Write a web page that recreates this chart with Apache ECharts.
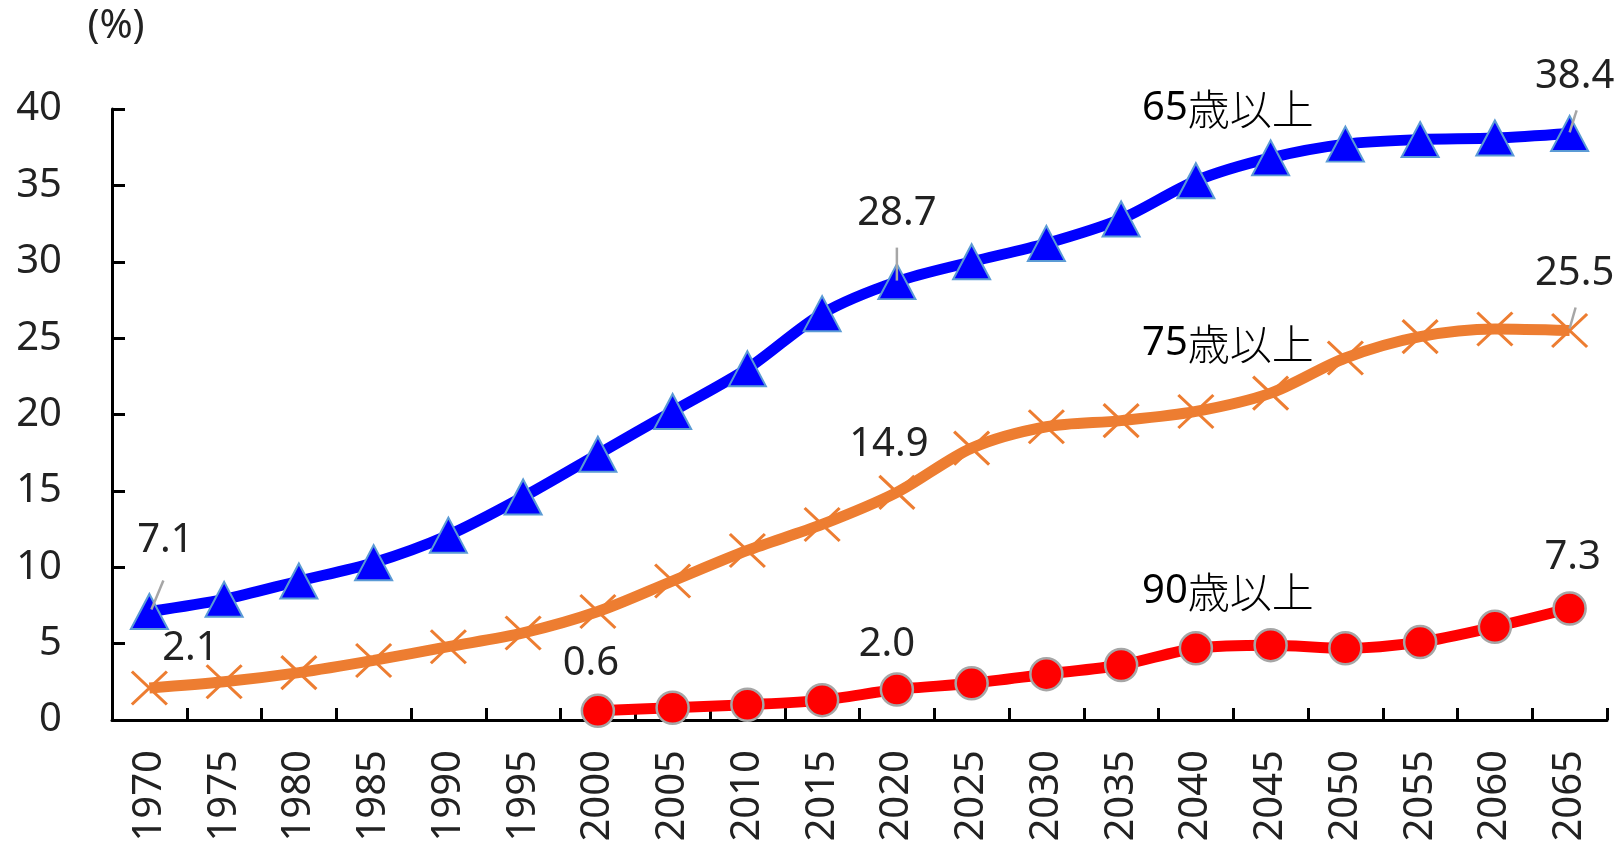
<!DOCTYPE html>
<html lang="ja">
<head>
<meta charset="utf-8">
<title>高齢化率の推移</title>
<script src="https://cdn.jsdelivr.net/npm/echarts@6/dist/echarts.min.js"></script>
<style>
  html, body { margin: 0; padding: 0; background: #fff; }
  #chart { width: 1619px; height: 845px; }
</style>
</head>
<body>
<div id="chart"></div>
<script>
// Share of the population by age group (%)
const years = ['1970', '1975', '1980', '1985', '1990', '1995', '2000', '2005', '2010', '2015',
               '2020', '2025', '2030', '2035', '2040', '2045', '2050', '2055', '2060', '2065'];
const age65 = [7.1, 7.9, 9.1, 10.3, 12.1, 14.6, 17.4, 20.2, 23.0, 26.6,
               28.7, 30.0, 31.2, 32.8, 35.3, 36.8, 37.7, 38.0, 38.1, 38.4];
const age75 = [2.1, 2.5, 3.1, 3.9, 4.8, 5.7, 7.1, 9.1, 11.1, 12.8,
               14.9, 17.8, 19.2, 19.6, 20.2, 21.4, 23.7, 25.1, 25.6, 25.5];
const age90 = [null, null, null, null, null, null, 0.6, 0.8, 1.0, 1.3,
               2.0, 2.4, 3.0, 3.6, 4.7, 4.9, 4.7, 5.1, 6.1, 7.3];
const ageFrom = ['65', '75', '90'];
const ageSuffix = '歳以上';
const yTicks = { min: 0, max: 40, interval: 5 };

// Which points carry a value label, and where the label sits relative to the point (px)
const labelOffsets = [
  { 0: [16, -71], 10: [0, -68], 19: [5, -57] },
  { 0: [41, -39], 10: [-8, -48], 19: [5, -57] },
  { 6: [-7, -47], 10: [-10, -45], 19: [3, -51] }
];
// Short guide lines from a point toward its label (px, relative to the point)
const leaders = [
  { s: 0, i: 0, from: [2, -2], to: [14, -31] },
  { s: 0, i: 10, from: [0, -1], to: [0, -34] },
  { s: 0, i: 19, from: [0, -1], to: [7, -23] },
  { s: 1, i: 19, from: [0, -2], to: [6, -23] }
];

const FONT = '"Noto Sans", "Noto Sans CJK JP", sans-serif';
const CJK = '"Noto Sans CJK JP", sans-serif';
const TEXT = '#222';

function buildData(values, offsets) {
  return values.map(function (v, i) {
    if (v === null) return null;
    const off = offsets[i];
    if (!off) return v;
    return {
      value: v,
      label: {
        show: true,
        position: 'inside',
        offset: off,
        formatter: function (p) { return Number(p.value).toFixed(1); },
        fontFamily: FONT,
        fontSize: 40,
        color: TEXT
      }
    };
  });
}

const chart = echarts.init(document.getElementById('chart'), null, { renderer: 'canvas' });

const option = {
  animation: false,
  backgroundColor: '#fff',
  grid: { left: 112, right: 12, top: 109, bottom: 125, containLabel: false },
  xAxis: {
    type: 'category',
    data: years,
    boundaryGap: true,
    axisLine: { show: true, lineStyle: { color: '#000', width: 3 } },
    axisTick: { show: true, inside: true, length: 12, interval: 0, lineStyle: { color: '#000', width: 3 } },
    axisLabel: { interval: 0, rotate: 90, margin: 30, fontFamily: FONT, fontSize: 40, color: TEXT },
    splitLine: { show: false }
  },
  yAxis: {
    type: 'value',
    min: yTicks.min,
    max: yTicks.max,
    interval: yTicks.interval,
    name: '(%)',
    nameLocation: 'end',
    nameGap: 62,
    nameTextStyle: { fontFamily: FONT, fontSize: 40, color: TEXT, align: 'center', verticalAlign: 'bottom', padding: [0, 0, 0, 8] },
    axisLine: { show: true, lineStyle: { color: '#000', width: 3 } },
    axisTick: { show: true, inside: true, length: 13, lineStyle: { color: '#000', width: 3 } },
    axisLabel: { margin: 50, fontFamily: FONT, fontSize: 40, color: TEXT },
    splitLine: { show: false }
  },
  series: [
    {
      name: ageFrom[0] + ageSuffix,
      type: 'line',
      data: buildData(age65, labelOffsets[0]),
      smooth: 0.3,
      symbol: 'triangle',
      symbolSize: [37, 35],
      lineStyle: { color: '#0000FF', width: 11 },
      itemStyle: { color: '#0000FF', borderColor: '#5B9BD5', borderWidth: 2 },
      label: { show: false },
      z: 2
    },
    {
      name: ageFrom[1] + ageSuffix,
      type: 'line',
      data: buildData(age75, labelOffsets[1]),
      smooth: 0.3,
      symbol: 'path://M0,0L10,10M10,0L0,10',
      symbolSize: [35, 33],
      lineStyle: { color: '#ED7D31', width: 11 },
      itemStyle: { color: '#ED7D31', borderColor: '#ED7D31', borderWidth: 3 },
      label: { show: false },
      z: 2
    },
    {
      name: ageFrom[2] + ageSuffix,
      type: 'line',
      data: buildData(age90, labelOffsets[2]),
      smooth: 0.3,
      connectNulls: false,
      symbol: 'circle',
      symbolSize: 32,
      lineStyle: { color: '#FF0000', width: 11 },
      itemStyle: { color: '#FF0000', borderColor: '#A6A6A6', borderWidth: 2.5 },
      label: { show: false },
      z: 2
    }
  ]
};

chart.setOption(option);

// Series names and label guide lines, positioned from the chart's own scales
const seriesValues = [age65, age75, age90];
const graphics = [];
leaders.forEach(function (ld, k) {
  const p = chart.convertToPixel({ xAxisIndex: 0, yAxisIndex: 0 }, [ld.i, seriesValues[ld.s][ld.i]]);
  graphics.push({
    type: 'line',
    id: 'leader' + k,
    z: 100,
    shape: { x1: p[0] + ld.from[0], y1: p[1] + ld.from[1], x2: p[0] + ld.to[0], y2: p[1] + ld.to[1] },
    style: { stroke: '#A6A6A6', lineWidth: 2.5 }
  });
});
const nameTops = [109, 344, 592];
ageFrom.forEach(function (a, k) {
  graphics.push({
    type: 'text',
    id: 'name' + k,
    z: 100,
    x: 1142,
    y: nameTops[k],
    style: {
      text: '{n|' + a + '}{s|' + ageSuffix + '}',
      textAlign: 'left',
      textVerticalAlign: 'middle',
      rich: {
        n: { fontFamily: FONT, fontSize: 40, color: TEXT },
        s: { fontFamily: CJK, fontSize: 42, color: TEXT, fontWeight: 300 }
      }
    }
  });
});
chart.setOption({ graphic: graphics });
</script>
</body>
</html>
